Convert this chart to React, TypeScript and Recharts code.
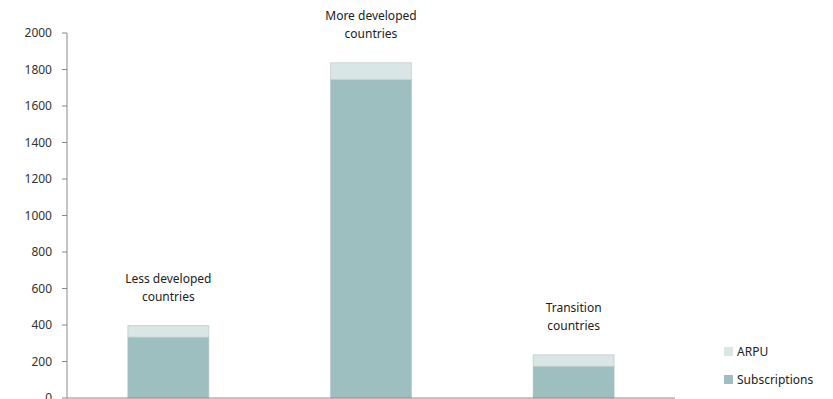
import React from 'react';
import { BarChart, Bar, XAxis, YAxis, LabelList } from 'recharts';

const categories = ['Less developed countries', 'More developed countries', 'Transition countries'];
const categoryLines = [
  ['Less developed', 'countries'],
  ['More developed', 'countries'],
  ['Transition', 'countries'],
];
const subscriptions = [333, 1744, 173];
const arpu = [64, 93, 64];
const yTicks = [0, 200, 400, 600, 800, 1000, 1200, 1400, 1600, 1800, 2000];

const data = categories.map((name, i) => ({
  name,
  Subscriptions: subscriptions[i],
  ARPU: arpu[i],
}));

const FONT = '"Noto Sans", sans-serif';

const TopLabel = (props: any) => {
  const { x, y, width, index } = props;
  const lines = categoryLines[index];
  const cx = x + width / 2;
  return (
    <text x={cx} textAnchor="middle" fontFamily={FONT} fontSize={12} fill="#222">
      <tspan x={cx} y={y - 43}>{lines[0]}</tspan>
      <tspan x={cx} y={y - 25}>{lines[1]}</tspan>
    </text>
  );
};

const legendItems = [
  { label: 'ARPU', color: '#d8e6e6' },
  { label: 'Subscriptions', color: '#9dbfbf' },
];

export default function App() {
  return (
    <div style={{ position: 'absolute', left: 0, top: 0, width: 833, height: 399, overflow: 'hidden', background: '#fff' }}>
      <BarChart
        width={833}
        height={430}
        data={data}
        margin={{ top: 33, right: 158, left: 0, bottom: 31 }}
        barCategoryGap="30%"
      >
        <XAxis dataKey="name" tick={false} height={1} stroke="#888" tickSize={5} />
        <YAxis
          width={67}
          domain={[0, 2000]}
          ticks={yTicks}
          interval={0}
          stroke="#888"
          tickSize={5}
          tickMargin={10}
          tick={{ fill: '#333', fontSize: 12, fontFamily: FONT }}
        />
        <Bar dataKey="Subscriptions" stackId="a" fill="#9dbfbf" stroke="#b0b8b8" strokeWidth={0.5} isAnimationActive={false} />
        <Bar dataKey="ARPU" stackId="a" fill="#d8e6e6" stroke="#b0b8b8" strokeWidth={0.5} isAnimationActive={false}>
          <LabelList dataKey="name" content={<TopLabel />} />
        </Bar>
      </BarChart>
      <div style={{ position: 'absolute', left: 724, top: 337, fontFamily: FONT, fontSize: 12, color: '#222' }}>
        {legendItems.map((it) => (
          <div key={it.label} style={{ display: 'flex', alignItems: 'center', height: 28 }}>
            <span style={{ width: 9, height: 9, background: it.color, display: 'inline-block', marginRight: 4 }} />
            {it.label}
          </div>
        ))}
      </div>
    </div>
  );
}
